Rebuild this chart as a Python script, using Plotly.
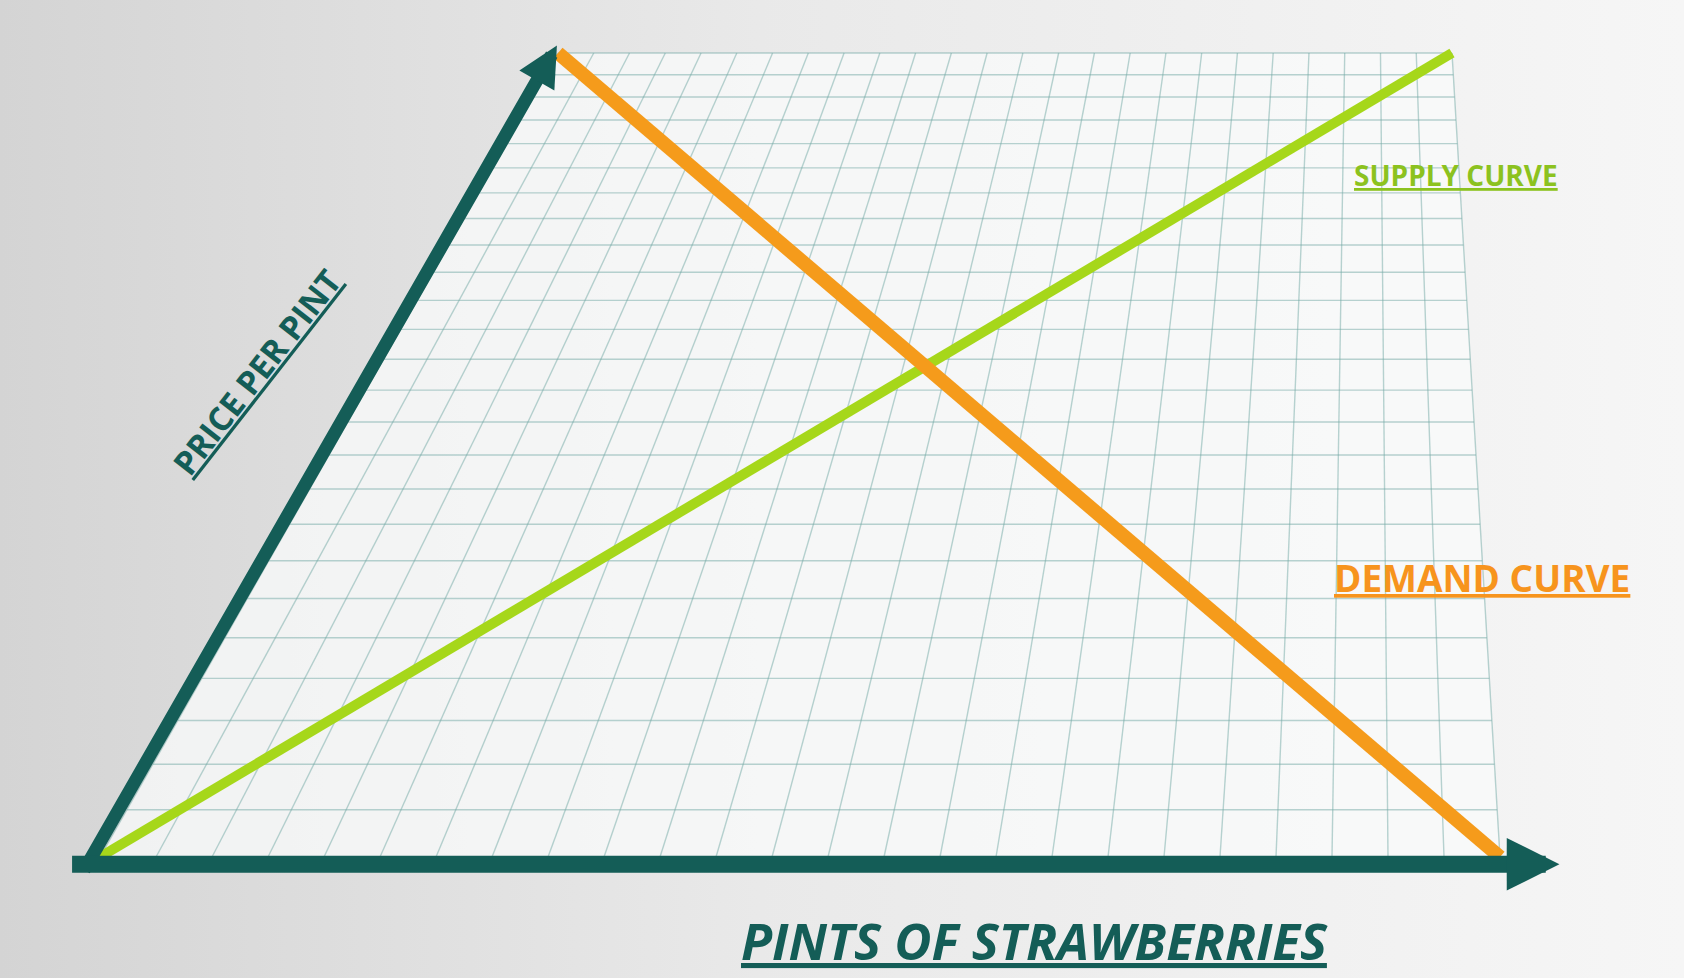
import numpy as np
import plotly.graph_objects as go

# supply / demand sketch on a 25 x 25 cell sheet (quantity across, price up)
quantity_cells = 25
price_cells = 25
supply_qty = [0, 25]
supply_price = [0, 25]
demand_qty = [0, 25]
demand_price = [25, 0]

W, H = 1684, 978

# where the sheet sits on the tilted page
BOTTOM_Y, TOP_Y = 857, 53
LEFT_BOTTOM, LEFT_TOP = 100, 558
RIGHT_BOTTOM, RIGHT_TOP = 1500, 1452
DEPTH = 0.5  # far rows shrink


def page(q, p):
    q = np.asarray(q, dtype=float)
    p = np.asarray(p, dtype=float)
    u = q / quantity_cells
    v = p / price_cells
    b = (BOTTOM_Y - TOP_Y) * (1 + DEPTH) / DEPTH
    y = BOTTOM_Y - b + b / (1 + DEPTH * v)
    t = (BOTTOM_Y - y) / (BOTTOM_Y - TOP_Y)
    xl = LEFT_BOTTOM + (LEFT_TOP - LEFT_BOTTOM) * t
    xr = RIGHT_BOTTOM + (RIGHT_TOP - RIGHT_BOTTOM) * t
    return xl + u * (xr - xl), y


fig = go.Figure()

# background
fig.add_trace(go.Scatter(x=[0, W, W, 0, 0], y=[0, 0, H, H, 0], mode='lines', fill='toself',
                         line=dict(width=0), hoverinfo='skip',
                         fillgradient=dict(type='horizontal',
                                           colorscale=[[0, '#d4d4d4'], [0.45, '#e9e9e9'], [1, '#f6f6f6']])))

# the sheet
cx, cy = page([0, quantity_cells, quantity_cells, 0, 0], [0, 0, price_cells, price_cells, 0])
fig.add_trace(go.Scatter(x=cx, y=cy, mode='lines', fill='toself', fillcolor='rgba(250,251,251,0.75)',
                         line=dict(width=0), hoverinfo='skip'))

gx, gy = [], []
for i in range(quantity_cells + 1):
    x, y = page([i, i], [0, price_cells])
    gx += list(x) + [None]
    gy += list(y) + [None]
for j in range(price_cells + 1):
    x, y = page([0, quantity_cells], [j, j])
    gx += list(x) + [None]
    gy += list(y) + [None]
fig.add_trace(go.Scatter(x=gx, y=gy, mode='lines', line=dict(color='rgba(115,170,165,0.5)', width=1.4),
                         hoverinfo='skip'))

sx, sy = page(supply_qty, supply_price)
fig.add_trace(go.Scatter(x=sx, y=sy, mode='lines', line=dict(color='#a6d71a', width=10), name='Supply'))
dx, dy = page(demand_qty, demand_price)
fig.add_trace(go.Scatter(x=dx, y=dy, mode='lines', line=dict(color='#f59b1b', width=14), name='Demand'))

teal = '#145d57'
# axes with arrow heads
ytail = page(-0.15, -0.3)
yhead = page(-0.15, 25.35)
xtail = page(-0.45, -0.15)
xhead = page(26.05, -0.15)
fig.add_annotation(x=float(yhead[0]), y=float(yhead[1]), ax=float(ytail[0]), ay=float(ytail[1]),
                   xref='x', yref='y', axref='x', ayref='y', text='', showarrow=True,
                   arrowhead=2, arrowsize=0.62, arrowwidth=13, arrowcolor=teal)
fig.add_annotation(x=float(xhead[0]), y=float(xhead[1]), ax=float(xtail[0]), ay=float(xtail[1]),
                   xref='x', yref='y', axref='x', ayref='y', text='', showarrow=True,
                   arrowhead=2, arrowsize=0.62, arrowwidth=17, arrowcolor=teal)

font = 'Open Sans, Noto Sans, sans-serif'
fig.add_annotation(x=1456, y=175, text='SUPPLY CURVE', showarrow=False, xref='x', yref='y',
                   font=dict(family=font, size=28, color='#8cc21f', weight=700, lineposition='under'))
fig.add_annotation(x=1482, y=577, text='DEMAND CURVE', showarrow=False, xref='x', yref='y',
                   font=dict(family=font, size=37, color='#f7941d', weight=700, lineposition='under'))
fig.add_annotation(x=256, y=372, text='PRICE PER PINT', showarrow=False, xref='x', yref='y', textangle=-52,
                   font=dict(family=font, size=33, color=teal, weight=700, lineposition='under'))
fig.add_annotation(x=1034, y=977, yanchor='bottom', text='PINTS OF STRAWBERRIES', showarrow=False,
                   xref='x', yref='y',
                   font=dict(family=font, size=51, color=teal, weight=700, style='italic',
                             lineposition='under'))

fig.update_layout(width=W, height=H, margin=dict(l=0, r=0, t=0, b=0), showlegend=False,
                  paper_bgcolor='#e8e8e8', plot_bgcolor='#e8e8e8',
                  xaxis=dict(visible=False, range=[0, W], fixedrange=True),
                  yaxis=dict(visible=False, range=[H, 0], fixedrange=True))
fig.write_html('out.html', config={'displayModeBar': False},
               post_script="document.body.style.margin='0';")
